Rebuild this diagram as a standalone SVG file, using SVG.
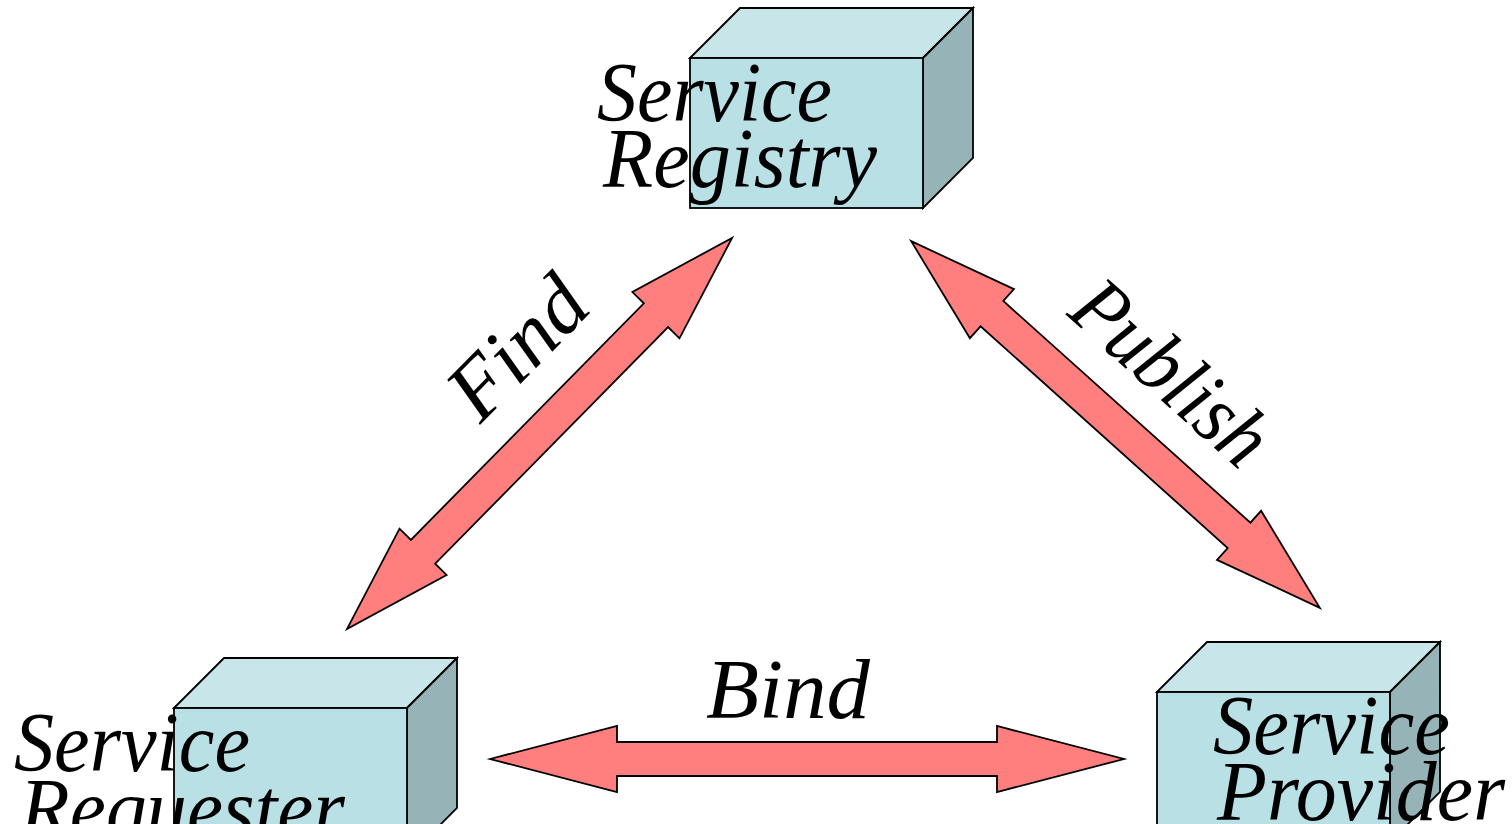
<svg xmlns="http://www.w3.org/2000/svg" width="1512" height="824" viewBox="0 0 1512 824">
  <style>
    .front { fill: #B9E0E4; stroke: #000; stroke-width: 1.8; stroke-linejoin: miter; }
    .top   { fill: #C8E6EA; stroke: #000; stroke-width: 1.8; stroke-linejoin: miter; }
    .side  { fill: #96B4B7; stroke: #000; stroke-width: 1.8; stroke-linejoin: miter; }
    .arrow { fill: #FF7F7F; stroke: #000; stroke-width: 1.8; stroke-linejoin: miter; }
    .label { font-family: "Liberation Serif", "Times New Roman", serif; font-style: italic; font-size: 84px; fill: #000; }
  </style>
  <defs>
    <!-- 3D box: front face 233x150, depth offset (50,-50) -->
    <g id="box">
      <polygon class="top" points="0,0 50,-50 283,-50 233,0"/>
      <polygon class="side" points="233,0 283,-50 283,100 233,150"/>
      <rect class="front" x="0" y="0" width="233" height="150"/>
    </g>
    <!-- diagonal double arrow, length 549, centred on origin -->
    <path id="diag" class="arrow" d="M -274.5 0 L -166 -33 L -166 -17 L 166 -17 L 166 -33 L 274.5 0 L 166 33 L 166 17 L -166 17 L -166 33 Z"/>
  </defs>

  <g id="registry">
    <use href="#box" x="690" y="58"/>
    <text class="label" x="597" y="121" textLength="235" lengthAdjust="spacingAndGlyphs">Service</text>
    <text class="label" x="603" y="187" textLength="274" lengthAdjust="spacingAndGlyphs">Registry</text>
  </g>

  <g id="requester">
    <use href="#box" x="174" y="708"/>
    <text class="label" x="14" y="771" textLength="236" lengthAdjust="spacingAndGlyphs">Service</text>
    <text class="label" x="20" y="837" textLength="325" lengthAdjust="spacingAndGlyphs">Requester</text>
  </g>

  <g id="provider">
    <use href="#box" x="1157" y="692"/>
    <text class="label" x="1213" y="754" textLength="237" lengthAdjust="spacingAndGlyphs">Service</text>
    <text class="label" x="1217" y="820" textLength="288" lengthAdjust="spacingAndGlyphs">Provider</text>
  </g>

  <g id="connectors">
    <!-- Find: requester <-> registry -->
    <use href="#diag" transform="translate(539.5 433.5) rotate(-45.45)"/>
    <!-- Publish: provider <-> registry -->
    <use href="#diag" transform="translate(1115.5 424.5) rotate(41.9)"/>
    <!-- Bind: requester <-> provider -->
    <path class="arrow" d="M 490 759 L 617 726 L 617 742 L 997 742 L 997 726 L 1124 759 L 997 792 L 997 776 L 617 776 L 617 792 Z"/>

    <text class="label" text-anchor="middle" transform="translate(537 367) rotate(-45.45)" textLength="162" lengthAdjust="spacingAndGlyphs">Find</text>
    <text class="label" text-anchor="middle" transform="translate(1153 393) rotate(41.9)" textLength="235" lengthAdjust="spacingAndGlyphs">Publish</text>
    <text class="label" x="706" y="718" textLength="164" lengthAdjust="spacingAndGlyphs">Bind</text>
  </g>
</svg>
